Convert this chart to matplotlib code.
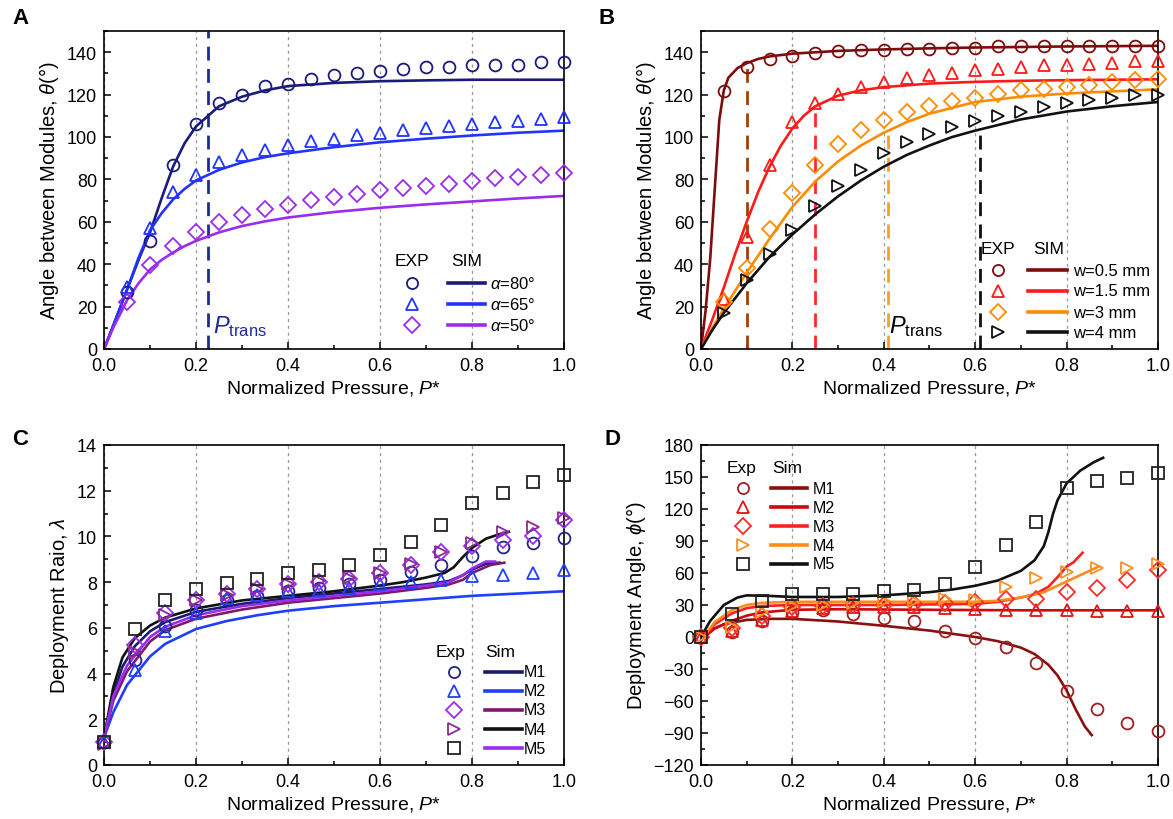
import matplotlib
matplotlib.use("Agg")
import matplotlib.pyplot as plt
from matplotlib.ticker import MultipleLocator

plt.rcParams['font.family'] = ['Liberation Sans', 'DejaVu Sans']
plt.rcParams['mathtext.fontset'] = 'custom'
plt.rcParams['mathtext.rm'] = 'Liberation Sans'
plt.rcParams['mathtext.it'] = 'Liberation Sans:italic'
plt.rcParams['axes.linewidth'] = 1.2

# ---------------- Panel A data ----------------
A_x_exp = [0.05, 0.10, 0.15, 0.20, 0.25, 0.30, 0.35, 0.40, 0.45, 0.50,
           0.55, 0.60, 0.65, 0.70, 0.75, 0.80, 0.85, 0.90, 0.95, 1.00]
A_exp_80 = [27, 51, 87, 106, 116, 120, 124, 125, 127.5, 129,
            130, 131, 132, 133, 133, 134, 134, 134, 135.5, 135.5]
A_exp_65 = [29, 57, 74, 82, 88, 91.5, 94, 96, 98, 99,
            101, 102, 103.5, 104, 105, 106, 107, 107.5, 108.5, 109.5]
A_exp_50 = [22, 39.5, 48.5, 55, 60, 63.4, 66, 68, 70.4, 71.7,
            73.2, 75, 76, 77, 78, 79, 80.6, 81, 82, 83]
A_sim_x = [0, 0.02, 0.05, 0.075, 0.1, 0.125, 0.15, 0.175, 0.2, 0.25,
           0.3, 0.35, 0.4, 0.5, 0.6, 0.7, 0.8, 0.9, 1.0]
A_sim_80 = [0, 11, 28, 42, 55, 71, 86, 97, 105, 114.5,
            119, 122, 124, 125.5, 126.3, 126.7, 127, 127, 127]
A_sim_65 = [0, 11, 28, 43, 56, 64, 70.5, 75.5, 79.5, 84.5,
            88, 90.5, 92.3, 95.2, 97.5, 99.2, 100.7, 102, 103]
A_sim_50 = [0, 10, 23, 31, 37.5, 42, 45.5, 48.5, 51, 55,
            58, 60.2, 62, 64.6, 66.6, 68.2, 69.6, 71, 72.2]
A_labels = [r'$\alpha$=80°', r'$\alpha$=65°', r'$\alpha$=50°']
A_ptrans = 0.225

# ---------------- Panel B data ----------------
B_x_exp = A_x_exp
B_exp_05 = [121.5, 133, 137, 138.2, 139.7, 140.5, 141, 141, 141.6, 141.6,
            142, 142, 142.7, 142.7, 142.7, 142.7, 142.7, 142.7, 142.7, 142.7]
B_exp_15 = [23.5, 52.7, 87, 107, 116, 120.5, 123.6, 126, 128, 129,
            130.4, 131.4, 132, 133, 133.8, 134, 134.6, 135, 136, 136]
B_exp_3 = [22, 38, 56.7, 73.5, 87, 96.6, 103.3, 108, 111.6, 114.7,
           117, 118.5, 120.5, 122, 122.8, 123.6, 124.7, 126, 126.8, 127.5]
B_exp_4 = [17, 32.4, 44.6, 56, 67.3, 76.7, 84.5, 92.3, 97.5, 101.3,
           104.6, 107.5, 110, 112, 114, 115.8, 117.4, 118.5, 119.7, 119.7]
B_sim05_x = [0, 0.01, 0.02, 0.03, 0.04, 0.05, 0.06, 0.08, 0.1, 0.125,
             0.15, 0.2, 0.3, 0.4, 0.5, 0.6, 0.8, 1.0]
B_sim05_y = [0, 18, 42, 75, 108, 122, 128, 132.5, 134.8, 136.8,
             138, 139.3, 140.6, 141.3, 141.8, 142.2, 142.7, 143]
B_sim15_x = [0, 0.025, 0.05, 0.075, 0.1, 0.125, 0.15, 0.175, 0.2, 0.225,
             0.25, 0.3, 0.35, 0.4, 0.5, 0.6, 0.7, 0.8, 0.9, 1.0]
B_sim15_y = [0, 14, 29, 45, 60, 74, 86, 96, 104, 110,
             114.5, 119.5, 122, 123.5, 125.2, 126, 126.5, 126.8, 127, 127.2]
B_sim3_x = [0, 0.025, 0.05, 0.1, 0.15, 0.2, 0.25, 0.3, 0.35, 0.4,
            0.45, 0.5, 0.6, 0.7, 0.8, 0.9, 1.0]
B_sim3_y = [0, 10, 19, 36, 52, 67, 79, 88.5, 96, 102,
            107, 111, 116.5, 119, 120.5, 121.5, 122.5]
B_sim4_x = [0, 0.025, 0.05, 0.1, 0.15, 0.2, 0.25, 0.3, 0.35, 0.4,
            0.45, 0.5, 0.55, 0.6, 0.7, 0.8, 0.9, 1.0]
B_sim4_y = [0, 9, 17, 31, 43.5, 54, 63.5, 72, 79.5, 86,
            91.5, 96, 100, 103, 108.3, 112, 114.5, 116.5]
B_labels = ['w=0.5 mm', 'w=1.5 mm', 'w=3 mm', 'w=4 mm']
B_ptrans_x = [0.10, 0.25, 0.41, 0.61]
B_ptrans_top = [134, 114, 103, 103]

# ---------------- Panel C data ----------------
C_x_exp = [0.0, 0.067, 0.133, 0.2, 0.267, 0.333, 0.4, 0.467,
           0.533, 0.6, 0.667, 0.733, 0.8, 0.867, 0.933, 1.0]
C_exp_M1 = [1.0, 4.6, 6.1, 6.8, 7.2, 7.4, 7.6, 7.75, 7.9, 8.1, 8.45, 8.75, 9.15, 9.55, 9.7, 9.95]
C_exp_M2 = [1.0, 4.15, 5.85, 6.65, 7.3, 7.45, 7.6, 7.65, 7.75, 7.9, 8.0, 8.1, 8.27, 8.3, 8.4, 8.55]
C_exp_M3 = [1.0, 5.25, 6.65, 7.2, 7.5, 7.7, 7.9, 8.0, 8.15, 8.4, 8.75, 9.3, 9.6, 9.85, 10.0, 10.7]
C_exp_M4 = [0.9, 4.95, 6.55, 7.2, 7.45, 7.7, 7.9, 8.05, 8.2, 8.4, 8.8, 9.3, 9.7, 10.2, 10.4, 10.8]
C_exp_M5 = [1.0, 5.95, 7.2, 7.7, 7.95, 8.15, 8.4, 8.55, 8.75, 9.2, 9.75, 10.5, 11.45, 11.9, 12.4, 12.7]
C_simM1_x = [0, 0.02, 0.04, 0.067, 0.1, 0.133, 0.2, 0.3, 0.4, 0.5, 0.6, 0.7, 0.75, 0.78, 0.8, 0.83, 0.86]
C_simM1_y = [1.2, 3.1, 4.3, 5.2, 5.85, 6.25, 6.7, 7.05, 7.3, 7.5, 7.7, 7.9, 8.05, 8.3, 8.55, 8.8, 8.85]
C_simM2_x = [0, 0.02, 0.05, 0.1, 0.133, 0.2, 0.267, 0.333, 0.4, 0.5, 0.6, 0.7, 0.8, 0.9, 1.0]
C_simM2_y = [1.2, 2.3, 3.5, 4.75, 5.3, 5.95, 6.3, 6.55, 6.75, 6.95, 7.1, 7.25, 7.4, 7.5, 7.6]
C_simM3_x = [0, 0.02, 0.05, 0.1, 0.133, 0.2, 0.3, 0.4, 0.5, 0.6, 0.7, 0.75, 0.78, 0.8, 0.84, 0.87]
C_simM3_y = [1.2, 2.8, 4.1, 5.4, 5.9, 6.4, 6.8, 7.1, 7.3, 7.5, 7.75, 7.9, 8.1, 8.4, 8.75, 8.85]
C_simM4_x = [0, 0.02, 0.04, 0.067, 0.1, 0.133, 0.2, 0.3, 0.4, 0.5, 0.6, 0.65, 0.7, 0.74, 0.76,
             0.78, 0.8, 0.83, 0.86, 0.88]
C_simM4_y = [1.2, 3.4, 4.7, 5.55, 6.1, 6.45, 6.85, 7.2, 7.4, 7.6, 7.85, 8.0, 8.2, 8.4, 8.65,
             9.1, 9.5, 9.9, 10.1, 10.2]
C_simM5_x = [0, 0.02, 0.05, 0.1, 0.133, 0.2, 0.3, 0.4, 0.5, 0.6, 0.7, 0.75, 0.78, 0.8, 0.83, 0.85]
C_simM5_y = [1.2, 3.0, 4.35, 5.6, 6.05, 6.55, 6.95, 7.2, 7.4, 7.6, 7.85, 8.0, 8.3, 8.6, 8.9, 8.9]
C_labels = ['M1', 'M2', 'M3', 'M4', 'M5']

# ---------------- Panel D data ----------------
D_x_exp = C_x_exp
D_exp_M1 = [0, 5, 15, 23, 25, 22, 17.7, 14.6, 6, -1, -9.6, -24.5, -50.6, -67.7, -81, -88.3]
D_exp_M2 = [0, 6, 16, 24.6, 26.8, 27.7, 27.7, 27.7, 27, 26, 25.5, 25.5, 25.5, 24.6, 24, 24]
D_exp_M3 = [0, 8, 20, 28, 29, 30, 30, 30.8, 31.7, 33, 35.5, 35.5, 42.6, 46.3, 53, 62.5]
D_exp_M4 = [0, 9.7, 23.6, 28.6, 30, 31.7, 34, 34, 35.5, 35, 47, 55, 61.3, 64.4, 65, 68]
D_exp_M5 = [0.3, 21.5, 34, 40.7, 40.7, 40.7, 43, 44, 49.4, 65.6, 85.8, 107.9, 139.6, 146.7, 149.5, 153.6]
D_simM1_x = [0, 0.02, 0.05, 0.1, 0.15, 0.2, 0.3, 0.4, 0.5, 0.6, 0.65, 0.7, 0.73, 0.76, 0.78,
             0.8, 0.82, 0.84, 0.855]
D_simM1_y = [-3, 6, 12, 16, 17, 17, 14.5, 10.5, 6, 0, -4, -10, -16, -26, -36,
             -50, -68, -84, -92]
D_simM2_x = [0, 0.03, 0.067, 0.1, 0.133, 0.2, 0.3, 0.5, 0.7, 1.0]
D_simM2_y = [-3, 8, 15, 20, 23, 25.5, 26, 25.5, 25, 25]
D_simM3_x = [0, 0.03, 0.067, 0.1, 0.133, 0.2, 0.4, 0.6, 0.65, 0.7, 0.73, 0.76, 0.78, 0.8, 0.815, 0.835]
D_simM3_y = [-3, 12, 22, 27, 29, 30, 30, 31, 33, 37, 40, 47, 56, 66, 70, 79]
D_simM4_x = [0, 0.03, 0.067, 0.1, 0.133, 0.2, 0.4, 0.6, 0.65, 0.7, 0.75, 0.8, 0.83, 0.86, 0.87]
D_simM4_y = [-3, 14, 25, 30, 32, 33, 33, 33, 34, 37, 42, 52, 58, 64, 66]
D_simM5_x = [0, 0.02, 0.05, 0.08, 0.1, 0.15, 0.2, 0.3, 0.4, 0.5, 0.55, 0.6, 0.65, 0.7, 0.73,
             0.75, 0.76, 0.77, 0.78, 0.8, 0.83, 0.86, 0.88]
D_simM5_y = [0, 15, 30, 37, 39, 38.5, 37.5, 37.5, 39, 42, 44.5, 48, 53, 62, 72,
             85, 98, 115, 128, 144, 156, 164, 168]
D_labels = ['M1', 'M2', 'M3', 'M4', 'M5']

X_TICKS = [0.0, 0.2, 0.4, 0.6, 0.8, 1.0]
XLABEL = r'Normalized Pressure, $P$*'

MS = 8.5
MEW = 1.3
LW = 1.9


def style_axes(ax, ylim, ymajor, yminor):
    ax.set_xlim(0, 1)
    ax.set_xticks(X_TICKS)
    ax.set_xticklabels([f'{t:.1f}' for t in X_TICKS])
    ax.xaxis.set_minor_locator(MultipleLocator(0.1))
    ax.yaxis.set_major_locator(MultipleLocator(ymajor))
    ax.yaxis.set_minor_locator(MultipleLocator(yminor))
    ax.set_ylim(*ylim)
    ax.tick_params(which='both', direction='in', top=False, right=False,
                   labelsize=13, width=1.1)
    ax.tick_params(which='major', length=5)
    ax.tick_params(axis='x', which='major', pad=6)
    ax.tick_params(axis='y', which='major', pad=5)
    ax.tick_params(which='minor', length=3)
    ax.grid(axis='x', which='major', color='#9a9a9a', linestyle=(0, (2.5, 3)), lw=0.9)
    ax.set_axisbelow(True)
    ax.set_xlabel(XLABEL, fontsize=14, labelpad=3)


def exp_marks(ax, x, y, marker, color, z=3):
    ax.plot(x, y, linestyle='none', marker=marker, ms=MS, mfc='none', mec=color,
            mew=MEW, clip_on=False, zorder=z)


def legend(ax, headers, hx, hy, mx, lx0, lx1, tx, rows, markers, colors, mcolors,
           labels, fs=12, hfs=12.5):
    t = ax.transAxes
    ax.text(hx[0], hy, headers[0], transform=t, ha='center', va='center', fontsize=hfs)
    ax.text(hx[1], hy, headers[1], transform=t, ha='center', va='center', fontsize=hfs)
    for ry, mk, c, mc, lab in zip(rows, markers, colors, mcolors, labels):
        ax.plot([mx], [ry], transform=t, linestyle='none', marker=mk, ms=MS - 0.5,
                mfc='none', mec=mc, mew=MEW, clip_on=False)
        ax.plot([lx0, lx1], [ry, ry], transform=t, color=c, lw=2.6, clip_on=False)
        ax.text(tx, ry, lab, transform=t, ha='left', va='center', fontsize=fs)


fig = plt.figure(figsize=(11.73, 8.2), dpi=100)
axA = fig.add_axes([0.0887, 0.5732, 0.3922, 0.3878])
axB = fig.add_axes([0.5976, 0.5732, 0.3896, 0.3878])
axC = fig.add_axes([0.0887, 0.0659, 0.3922, 0.3902])
axD = fig.add_axes([0.5976, 0.0659, 0.3896, 0.3902])

# ---------------- A ----------------
cA = ['#1b1b7d', '#2233ff', '#9a2cf0']
style_axes(axA, (0, 150), 20, 10)
axA.set_ylabel(r'Angle between Modules, $\theta$(°)', fontsize=14.5)
axA.plot([A_ptrans, A_ptrans], [0, 150], color='#1f2a99', lw=2.0, linestyle=(0, (5, 3)), zorder=2)
for y, c in zip([A_sim_80, A_sim_65, A_sim_50], cA):
    axA.plot(A_sim_x, y, color=c, lw=LW, zorder=2.5)
for y, m, c in zip([A_exp_80, A_exp_65, A_exp_50], ['o', '^', 'D'], cA):
    exp_marks(axA, A_x_exp, y, m, c)
axA.text(A_ptrans + 0.012, 8, r'$P_{\mathrm{trans}}$', color='#1f2a99', fontsize=17)
legend(axA, ['EXP', 'SIM'], [0.669, 0.788], 0.277, 0.669, 0.747, 0.829, 0.838,
       [0.209, 0.143, 0.075], ['o', '^', 'D'], cA, cA, A_labels)

# ---------------- B ----------------
cB = ['#7d0c0c', '#ff1a1a', '#ff8c00', '#111111']
cBd = ['#a0400a', '#ff2a2a', '#ffa020', '#111111']
style_axes(axB, (0, 150), 20, 10)
axB.set_ylabel(r'Angle between Modules, $\theta$(°)', fontsize=14.5)
for xv, top, c in zip(B_ptrans_x, B_ptrans_top, cBd):
    axB.plot([xv, xv], [0, top], color=c, lw=2.0, linestyle=(0, (5, 3)), zorder=2)
for xs, ys, c in zip([B_sim05_x, B_sim15_x, B_sim3_x, B_sim4_x],
                     [B_sim05_y, B_sim15_y, B_sim3_y, B_sim4_y], cB):
    axB.plot(xs, ys, color=c, lw=LW, zorder=2.5)
for y, m, c in zip([B_exp_05, B_exp_15, B_exp_3, B_exp_4], ['o', '^', 'D', '>'], cB):
    exp_marks(axB, B_x_exp, y, m, c)
axB.text(0.412, 8, r'$P_{\mathrm{trans}}$', color='black', fontsize=17)
legend(axB, ['EXP', 'SIM'], [0.65, 0.76], 0.316, 0.649, 0.715, 0.80, 0.815,
       [0.247, 0.183, 0.115, 0.052], ['o', '^', 'D', '>'], cB, cB, B_labels)

# ---------------- C ----------------
cC = ['#1a1a70', '#1f3fff', '#7d1a6e', '#111111', '#9a2cf0']
mC = ['#23238a', '#2040ff', '#9a2cf0', '#8a2a90', '#222222']
style_axes(axC, (0, 14), 2, 1)
axC.set_ylabel(r'Deployment Raio, $\lambda$', fontsize=14.5)
for xs, ys, c in zip([C_simM1_x, C_simM2_x, C_simM3_x, C_simM4_x, C_simM5_x],
                     [C_simM1_y, C_simM2_y, C_simM3_y, C_simM4_y, C_simM5_y], cC):
    axC.plot(xs, ys, color=c, lw=LW, zorder=2.5)
for y, m, c in zip([C_exp_M1, C_exp_M2, C_exp_M3, C_exp_M4, C_exp_M5],
                   ['o', '^', 'D', '>', 's'], mC):
    exp_marks(axC, C_x_exp, y, m, c)
legend(axC, ['Exp', 'Sim'], [0.754, 0.861], 0.354, 0.76, 0.828, 0.908, 0.912,
       [0.291, 0.232, 0.172, 0.111, 0.052], ['o', '^', 'D', '>', 's'], cC, mC, C_labels,
       fs=11.5)

# ---------------- D ----------------
cD = ['#8a1010', '#cc0a0a', '#ff2020', '#ff8c1a', '#111111']
mD = ['#a02020', '#e01515', '#ff2a2a', '#ff9020', '#222222']
style_axes(axD, (-120, 180), 30, 15)
axD.set_ylabel(r'Deployment Angle, $\phi$(°)', fontsize=14.5)
for xs, ys, c in zip([D_simM1_x, D_simM2_x, D_simM3_x, D_simM4_x, D_simM5_x],
                     [D_simM1_y, D_simM2_y, D_simM3_y, D_simM4_y, D_simM5_y], cD):
    axD.plot(xs, ys, color=c, lw=LW, zorder=2.5)
for y, m, c in zip([D_exp_M1, D_exp_M2, D_exp_M3, D_exp_M4, D_exp_M5],
                   ['o', '^', 'D', '>', 's'], mD):
    exp_marks(axD, D_x_exp, y, m, c)
legend(axD, ['Exp', 'Sim'], [0.088, 0.188], 0.931, 0.092, 0.153, 0.231, 0.245,
       [0.865, 0.806, 0.746, 0.687, 0.629], ['o', '^', 'D', '>', 's'], cD, mD, D_labels,
       fs=11.5)

# panel letters
for lab, (px, py) in zip(['A', 'B', 'C', 'D'], [(12, 18), (598, 18), (12, 440), (605, 440)]):
    fig.text(px / 1173, 1 - py / 820, lab, fontsize=16, fontweight='bold',
             ha='left', va='center')

fig.savefig('out.png', dpi=100)
